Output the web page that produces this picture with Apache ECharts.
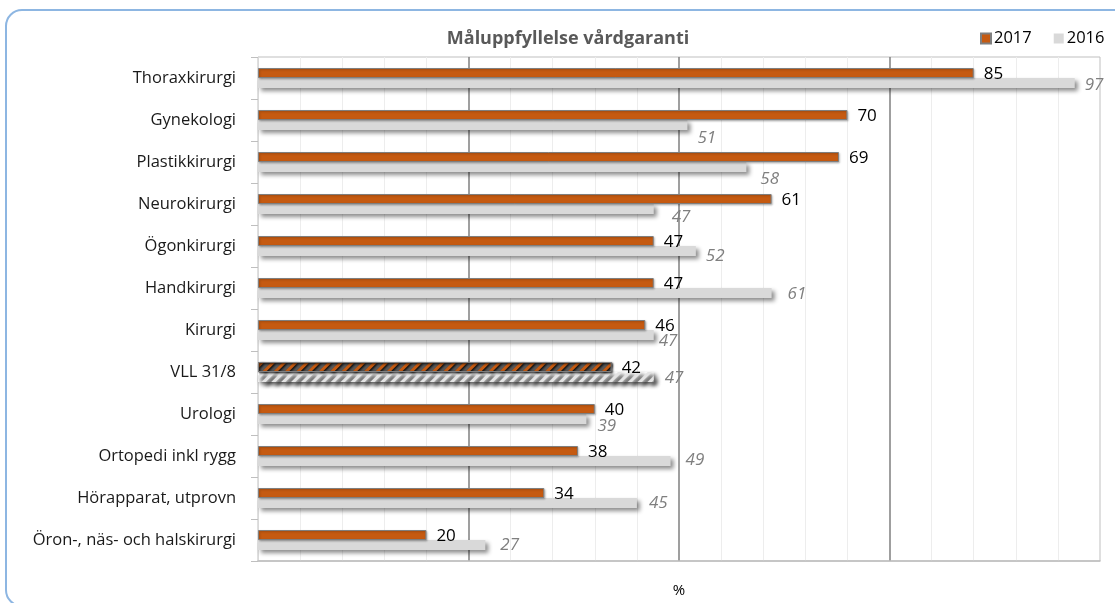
<!DOCTYPE html>
<html>
<head>
<meta charset="utf-8">
<script src="https://cdn.jsdelivr.net/npm/echarts@6/dist/echarts.min.js"></script>
<style>
html,body{margin:0;padding:0;background:#fff;}
#chart{width:1115px;height:603px;}
</style>
</head>
<body>
<div id="chart"></div>
<script>
const categories = ['Thoraxkirurgi','Gynekologi','Plastikkirurgi','Neurokirurgi','Ögonkirurgi','Handkirurgi','Kirurgi','VLL 31/8','Urologi','Ortopedi inkl rygg','Hörapparat, utprovn','Öron-, näs- och halskirurgi'];
const values2017 = [85,70,69,61,47,47,46,42,40,38,34,20];
const values2016 = [97,51,58,47,52,61,47,47,39,49,45,27];
const highlightCategory = 'VLL 31/8';
// label nudges (styling only) for the 2016 labels: [dx, dy]
const label2016Nudge = [[0,2],[0,13],[4,12],[8,8],[0,5],[6,1],[-5,6],[1,1],[1,7],[5,-1],[2,0],[5,0]];

const FONT = 'Open Sans';
const ORANGE = '#C55A11';
const GRAY = '#D9D9D9';

const data2017 = values2017.map((v, i) => {
  const item = { value: v };
  if (categories[i] === highlightCategory) {
    item.itemStyle = {
      color: '#595959',
      decal: { symbol: 'rect', color: ORANGE, dashArrayX: [1, 0], dashArrayY: [3, 5], rotation: -Math.PI / 4, symbolSize: 1 }
    };
  }
  return item;
});
const data2016 = values2016.map((v, i) => {
  const item = { value: v, label: { offset: label2016Nudge[i] } };
  if (categories[i] === highlightCategory) {
    item.itemStyle = {
      color: '#ffffff',
      decal: { symbol: 'rect', color: '#E3E3E3', dashArrayX: [1, 0], dashArrayY: [3, 4], rotation: -Math.PI / 4, symbolSize: 1 }
    };
  }
  return item;
});

const chart = echarts.init(document.getElementById('chart'), null, { renderer: 'canvas' });
chart.setOption({
  animation: false,
  backgroundColor: '#ffffff',
  graphic: [{
    type: 'rect',
    shape: { x: 6, y: 10, width: 1200, height: 596, r: 16 },
    style: { fill: 'none', stroke: '#8DB6E2', lineWidth: 2 },
    silent: true,
    z: -10
  }],
  title: {
    text: 'Måluppfyllelse vårdgaranti',
    left: 563, top: 25, textAlign: 'center',
    textStyle: { fontFamily: FONT, fontSize: 18, fontWeight: 'bold', color: '#595959' }
  },
  legend: {
    left: 975, top: 25,
    itemWidth: 10, itemHeight: 10, itemGap: 22,
    icon: 'rect',
    textStyle: { fontFamily: FONT, fontSize: 16.5, color: '#000', padding: [0, 0, 0, -2] },
    data: ['2017', '2016']
  },
  grid: {
    left: 258, right: 15, top: 57, bottom: 38,
    show: true, borderColor: '#BFBFBF', borderWidth: 1, backgroundColor: 'transparent'
  },
  xAxis: {
    type: 'value', min: 0, max: 100, interval: 25,
    name: '%', nameLocation: 'middle', nameGap: 22,
    nameTextStyle: { fontFamily: FONT, fontSize: 15, color: '#000' },
    axisLabel: { show: false },
    axisTick: { show: false },
    axisLine: { show: true, lineStyle: { color: '#BFBFBF', width: 1.5 } },
    splitLine: { show: true, showMinLine: false, showMaxLine: false, lineStyle: { color: '#7F7F7F', width: 1.5 } },
    minorTick: { show: false, splitNumber: 5 },
    minorSplitLine: { show: true, lineStyle: { color: '#EDEDED', width: 1 } }
  },
  yAxis: {
    type: 'category', inverse: true, data: categories,
    axisLine: { show: true, lineStyle: { color: '#D9D9D9' } },
    axisTick: { show: true, length: 7, lineStyle: { color: '#BFBFBF' } },
    axisLabel: { fontFamily: FONT, fontSize: 16.5, color: '#1a1a1a', margin: 22, padding: [0, 0, 3, 0] }
  },
  series: [{
    name: '2017', type: 'bar', barWidth: 10, barGap: '0%',
    data: data2017,
    itemStyle: { color: ORANGE, borderColor: '#7F7F7F', borderWidth: 1, shadowColor: 'rgba(0,0,0,0.25)', shadowBlur: 2, shadowOffsetX: 1, shadowOffsetY: 1 },
    label: { show: true, position: 'right', distance: 10, fontFamily: FONT, fontSize: 17, color: '#000', offset: [0, 1] },
    z: 3
  }, {
    name: '2016', type: 'bar', barWidth: 10, barGap: '0%',
    data: data2016,
    itemStyle: { color: GRAY, shadowColor: 'rgba(0,0,0,0.45)', shadowBlur: 4, shadowOffsetX: 3, shadowOffsetY: 3 },
    label: { show: true, position: 'right', distance: 10, fontFamily: FONT, fontSize: 17, fontStyle: 'italic', color: '#7F7F7F' },
    z: 2
  }]
});
</script>
</body>
</html>
